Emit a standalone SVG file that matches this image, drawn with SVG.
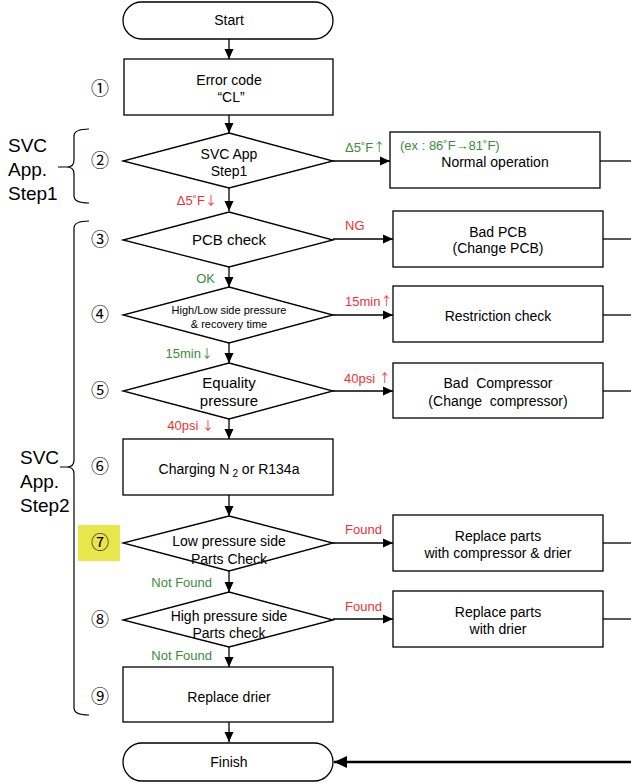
<svg xmlns="http://www.w3.org/2000/svg" width="631" height="784" viewBox="0 0 631 784">
<style>
.n{fill:#fff;stroke:#000;stroke-width:1.3}
.t{font-family:"Liberation Sans",Arial,sans-serif;font-size:14px;fill:#000;text-anchor:middle}
.t15{font-size:15px}
.s{font-family:"Liberation Sans",Arial,sans-serif;font-size:11px;fill:#000;text-anchor:middle}
.big{font-family:"Liberation Sans",Arial,sans-serif;font-size:19px;fill:#000}
.num{font-family:"Noto Sans CJK JP","DejaVu Sans",sans-serif;font-size:18px;fill:#000;text-anchor:middle}
.g{font-family:"Liberation Sans",Arial,sans-serif;font-size:13px;fill:#3c8c3c}
.r{font-family:"Liberation Sans",Arial,sans-serif;font-size:13px;fill:#ee3333}
.ar{font-family:"Noto Sans CJK JP","DejaVu Sans",sans-serif;font-size:12px}
.e{text-anchor:end}
.c{fill:none;stroke:#000;stroke-width:1.3}
.br{fill:none;stroke:#000;stroke-width:1.2}
</style>
<defs>
<marker id="a" markerUnits="userSpaceOnUse" markerWidth="10" markerHeight="10" refX="10" refY="5" orient="auto">
<path d="M0,0.5 L10,5 L0,9.5 z" fill="#000"/>
</marker>
<marker id="a2" markerUnits="userSpaceOnUse" markerWidth="13" markerHeight="12" refX="13" refY="6" orient="auto">
<path d="M0,0 L13,6 L0,12 z" fill="#000"/>
</marker>
</defs>

<rect x="78" y="525" width="42" height="36" fill="#e8e64a"/>

<g id="brackets">
<path class="br" d="M89,129 Q74,129 74,136 L74,160 Q74,167 67,167 L58,167 M67,167 Q74,167 74,174 L74,196 Q74,203 89,203"/>
<text class="big" x="8" y="152">SVC</text>
<text class="big" x="8" y="176">App.</text>
<text class="big" x="8" y="200">Step1</text>
<path class="br" d="M89,221 Q74,221 74,228 L74,460 Q74,467 67,467 L60,467 M67,467 Q74,467 74,474 L74,708 Q74,715 89,715"/>
<text class="big" x="20" y="464">SVC</text>
<text class="big" x="20" y="488">App.</text>
<text class="big" x="20" y="512">Step2</text>
</g>

<g id="numbers">
<text class="num" x="100" y="95">①</text>
<text class="num" x="100" y="167">②</text>
<text class="num" x="100" y="246">③</text>
<text class="num" x="100" y="321">④</text>
<text class="num" x="100" y="397">⑤</text>
<text class="num" x="100" y="473">⑥</text>
<text class="num" x="100" y="549">⑦</text>
<text class="num" x="100" y="626">⑧</text>
<text class="num" x="100" y="703">⑨</text>
</g>

<g id="connectors">
<path class="c" d="M229,39 V59" marker-end="url(#a)"/>
<path class="c" d="M229,115 V133" marker-end="url(#a)"/>
<path class="c" d="M229,188 V211" marker-end="url(#a)"/>
<path class="c" d="M229,267 V287" marker-end="url(#a)"/>
<path class="c" d="M229,343 V363" marker-end="url(#a)"/>
<path class="c" d="M229,419 V439" marker-end="url(#a)"/>
<path class="c" d="M229,495 V516" marker-end="url(#a)"/>
<path class="c" d="M229,571 V592" marker-end="url(#a)"/>
<path class="c" d="M229,647 V667" marker-end="url(#a)"/>
<path class="c" d="M229,722 V742" marker-end="url(#a)"/>
<path class="c" d="M333,161 H390" marker-end="url(#a)"/>
<path class="c" d="M333,239 H393" marker-end="url(#a)"/>
<path class="c" d="M333,315 H393" marker-end="url(#a)"/>
<path class="c" d="M333,391 H393" marker-end="url(#a)"/>
<path class="c" d="M333,543 H393" marker-end="url(#a)"/>
<path class="c" d="M333,619 H393" marker-end="url(#a)"/>
<path class="c" d="M600,161 H631"/>
<path class="c" d="M603,239 H631"/>
<path class="c" d="M603,315 H631"/>
<path class="c" d="M603,391 H631"/>
<path class="c" d="M603,543 H631"/>
<path class="c" d="M603,619 H631"/>
<path fill="none" stroke="#000" stroke-width="2.4" d="M631,762 H334" marker-end="url(#a2)"/>
<text class="g" x="345" y="152">Δ5˚F<tspan class="ar">↑</tspan></text>
<text class="r e" x="217" y="205">Δ5˚F<tspan class="ar">↓</tspan></text>
<text class="r" x="345" y="230">NG</text>
<text class="g e" x="215" y="283">OK</text>
<text class="r" x="345" y="306">15min<tspan class="ar">↑</tspan></text>
<text class="g e" x="213" y="358">15min<tspan class="ar">↓</tspan></text>
<text class="r" x="344" y="383">40psi <tspan class="ar">↑</tspan></text>
<text class="r e" x="214" y="430">40psi <tspan class="ar">↓</tspan></text>
<text class="r" x="345" y="534">Found</text>
<text class="g e" x="212" y="587">Not Found</text>
<text class="r" x="345" y="611">Found</text>
<text class="g e" x="212" y="660">Not Found</text>
</g>

<g id="start">
<rect class="n" x="123" y="2" width="210" height="37" rx="18.5"/>
<text class="t" x="229" y="25">Start</text>
</g>
<g id="step1">
<rect class="n" x="124" y="59" width="209" height="56"/>
<text class="t" x="229" y="85">Error code</text>
<text class="t" x="231" y="102">“CL”</text>
</g>
<g id="step2">
<polygon class="n" points="229,133 333,161 229,188 123,161"/>
<text class="t" x="229" y="159">SVC App</text>
<text class="t" x="229" y="176">Step1</text>
</g>
<g id="normal">
<rect class="n" x="390" y="132" width="210" height="56"/>
<text class="g" x="400" y="150">(ex : 86˚F→81˚F)</text>
<text class="t" x="495" y="167">Normal operation</text>
</g>
<g id="step3">
<polygon class="n" points="229,212 333,240 229,267 123,240"/>
<text class="t t15" x="229" y="245">PCB check</text>
</g>
<g id="badpcb">
<rect class="n" x="393" y="211" width="210" height="56"/>
<text class="t" x="498" y="237">Bad PCB</text>
<text class="t" x="498" y="253">(Change PCB)</text>
</g>
<g id="step4">
<polygon class="n" points="229,287 333,315 229,343 123,315"/>
<text class="s" x="229" y="314">High/Low side pressure</text>
<text class="s" x="229" y="328">&amp; recovery time</text>
</g>
<g id="restriction">
<rect class="n" x="393" y="286" width="210" height="56"/>
<text class="t" x="498" y="321">Restriction check</text>
</g>
<g id="step5">
<polygon class="n" points="229,363 333,391 229,419 123,391"/>
<text class="t t15" x="229" y="388">Equality</text>
<text class="t t15" x="229" y="406">pressure</text>
</g>
<g id="badcomp">
<rect class="n" x="393" y="363" width="210" height="55"/>
<text class="t" x="498" y="388">Bad&#160; Compressor</text>
<text class="t" x="498" y="406">(Change&#160; compressor)</text>
</g>
<g id="step6">
<rect class="n" x="123" y="439" width="210" height="56"/>
<text class="t" x="229" y="474">Charging N<tspan font-size="10" dx="3" dy="3">2</tspan><tspan dy="-3"> or R134a</tspan></text>
</g>
<g id="step7">
<polygon class="n" points="229,516 333,543 229,571 123,543"/>
<text class="t" x="229" y="546">Low pressure side</text>
<text class="t" x="229" y="564">Parts Check</text>
</g>
<g id="replace1">
<rect class="n" x="393" y="515" width="210" height="56"/>
<text class="t" x="498" y="541">Replace parts</text>
<text class="t" x="498" y="558">with compressor &amp; drier</text>
</g>
<g id="step8">
<polygon class="n" points="229,592 333,620 229,647 123,620"/>
<text class="t" x="229" y="621">High pressure side</text>
<text class="t" x="229" y="638">Parts check</text>
</g>
<g id="replace2">
<rect class="n" x="393" y="591" width="210" height="56"/>
<text class="t" x="498" y="617">Replace parts</text>
<text class="t" x="498" y="634">with drier</text>
</g>
<g id="step9">
<rect class="n" x="123" y="667" width="210" height="55"/>
<text class="t" x="229" y="702">Replace drier</text>
</g>
<g id="finish">
<rect class="n" x="123" y="743" width="210" height="38" rx="19"/>
<text class="t" x="229" y="767">Finish</text>
</g>
</svg>
